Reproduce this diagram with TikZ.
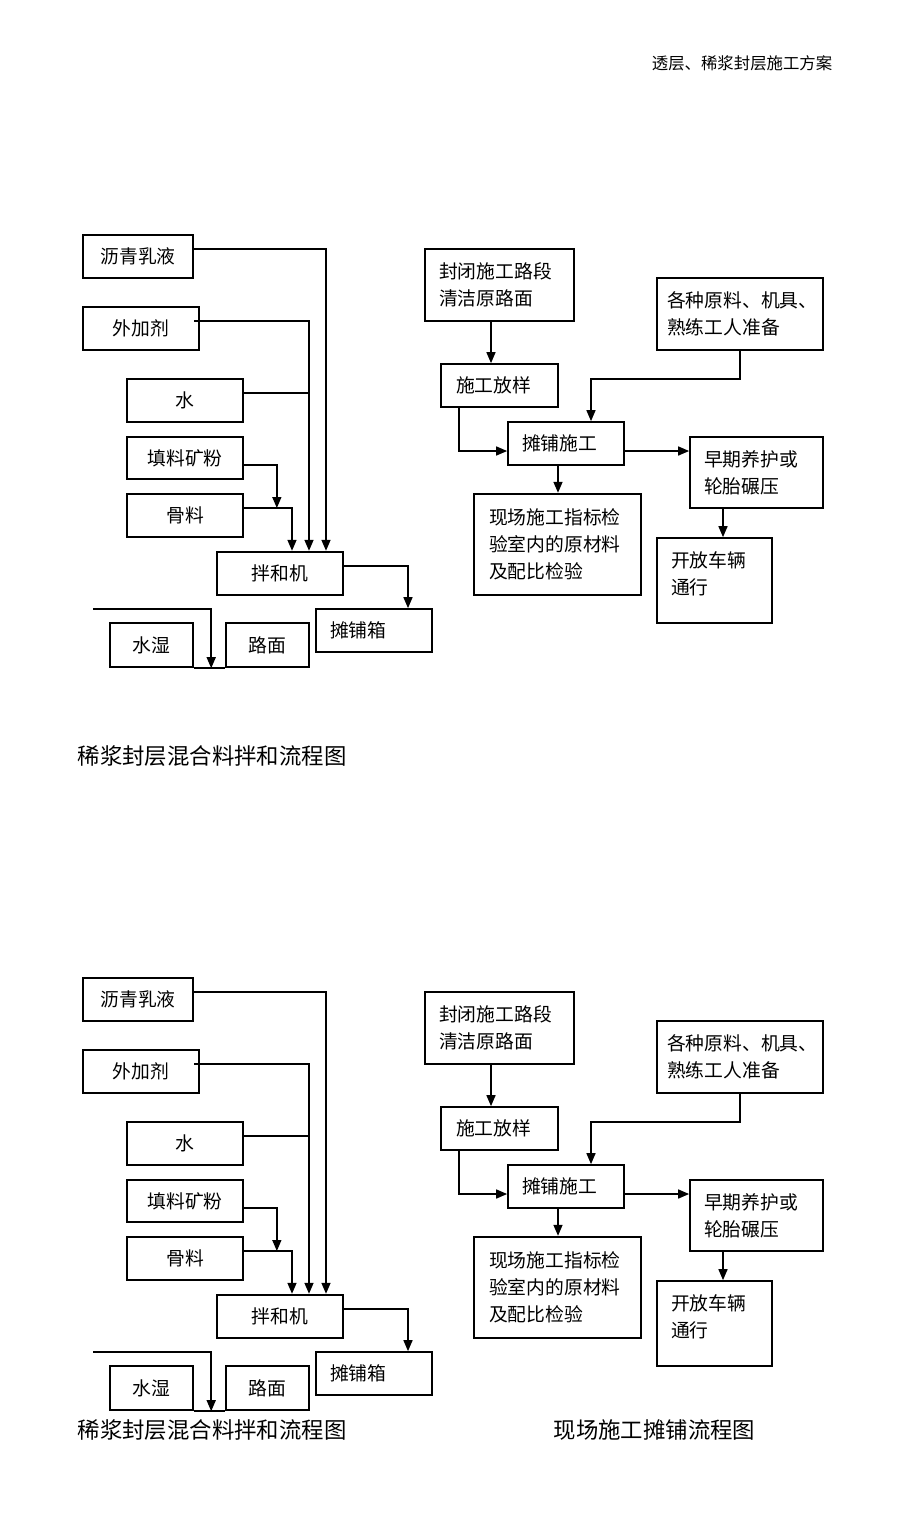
\documentclass[tikz,border=0pt]{standalone}
\usepackage{fontspec}
\newfontfamily\cjk{Noto Sans CJK SC}
\usetikzlibrary{arrows.meta}

\begin{document}
\begin{tikzpicture}[x=1pt,y=-1pt,>={Triangle[length=11pt,width=9pt]},line width=1.5pt]
    \tikzstyle{box}=[draw,line width=1.7pt,inner sep=0pt,font=\cjk\fontsize{18.8}{27}\selectfont]
    \tikzstyle{thick box}=[box,line width=2.4pt]
    \tikzstyle{left box}=[box,align=left,inner xsep=14pt]
    \tikzstyle{caption}=[anchor=west,inner sep=0pt,font=\cjk\fontsize{22.4}{26}\selectfont]
    \tikzstyle{link}=[->]

    \path[fill=white,use as bounding box] (0,0) rectangle (920,1516);

    % Page header
    \node[anchor=east,inner sep=0pt,font=\cjk\fontsize{16.4}{20}\selectfont] (header) at (833,63) {透层、稀浆封层施工方案};

    % The same pair of charts is printed twice on the page
    \foreach \k/\dy in {1/0,2/743}{
    \begin{scope}[yshift=-\dy pt]
        % Draw the mixing chart nodes
        \node[box,minimum width=110pt,minimum height=43pt] (ldq-\k) at (138,256.5) {沥青乳液};
        \node[box,line width=2pt,minimum width=116pt,minimum height=43pt] (wjj-\k) at (141,328.5) {外加剂};
        \node[box,minimum width=116pt,minimum height=43pt] (shui-\k) at (185,400.5) {水};
        \node[box,minimum width=116pt,minimum height=42pt] (tl-\k) at (185,458) {填料矿粉};
        \node[box,minimum width=116pt,minimum height=43pt] (gl-\k) at (185,515.5) {骨料};
        \node[thick box,minimum width=126pt,minimum height=43pt] (bhj-\k) at (280,573.5) {拌和机};
        \node[left box,text width=88pt,minimum height=43pt] (tpx-\k) at (374,630.5) {摊铺箱};
        \node[thick box,minimum width=83pt,minimum height=44pt] (ss-\k) at (151.5,645) {水湿};
        \node[thick box,minimum width=83pt,minimum height=44pt] (lm-\k) at (267.5,645) {路面};
        \coordinate (wet-\k) at (93,609);

        % Connect the feeds with the mixer
        \draw[link] ([yshift=7.5pt]ldq-\k.east) -| ([xshift=46pt]bhj-\k.north);
        \draw[link] ([xshift=-6pt,yshift=7.5pt]wjj-\k.east) -| ([xshift=29pt]bhj-\k.north);
        \draw ([yshift=7.5pt]shui-\k.east) -- +(66,0);
        \draw[link] ([yshift=-7pt]tl-\k.east) -| ([xshift=33pt,yshift=7.5pt]gl-\k.east);
        \draw[link] ([yshift=7.5pt]gl-\k.east) -| ([xshift=12pt]bhj-\k.north);
        \draw[link] ([yshift=7.5pt]bhj-\k.east) -| ([xshift=34pt]tpx-\k.north);
        \draw[link] (wet-\k) -| ([xshift=17pt]ss-\k.south east);
        \draw[line width=2.4pt] (ss-\k.south east) -- (lm-\k.south west);

        % Draw the paving chart nodes
        \node[left box,text width=121pt,minimum height=72pt] (fb-\k) at (499.5,285) {封闭施工路段\\清洁原路面};
        \node[left box,inner xsep=15pt,text width=87pt,minimum height=43pt] (fy-\k) at (499.5,385.5) {施工放样};
        \node[left box,inner xsep=10pt,text width=146pt,minimum height=72pt] (zb-\k) at (740,314) {各种原料、机具、\\熟练工人准备};
        \node[left box,text width=88pt,minimum height=43pt] (tpsg-\k) at (566,443.5) {摊铺施工};
        \node[left box,text width=105pt,minimum height=71pt] (yh-\k) at (756.5,472.5) {早期养护或\\轮胎碾压};
        \node[left box,line width=2.4pt,inner xsep=15pt,text width=137pt,minimum height=101pt] (jy-\k) at (557.5,544.5) {现场施工指标检\\验室内的原材料\\及配比检验};
        \node[left box,text width=87pt,text depth=41pt,minimum height=85pt] (tx-\k) at (714.5,580.5) {开放车辆\\通行};

        % Connect the paving steps
        \draw[link] ([xshift=-8.5pt]fb-\k.south) -- ([xshift=-8.5pt]fy-\k.north);
        \draw[link] ([xshift=-40.5pt]fy-\k.south) |- ([yshift=-7.5pt]tpsg-\k.west);
        \draw[link] (zb-\k.south) -- ++(0,28) -| ([xshift=25pt]tpsg-\k.north);
        \draw[link] ([yshift=-7.5pt]tpsg-\k.east) -- ([yshift=-7.5pt]tpsg-\k.east -| yh-\k.west);
        \draw[link] ([xshift=-8pt]tpsg-\k.south) -- ([xshift=-8pt]tpsg-\k.south |- jy-\k.north);
        \draw[link] ([xshift=-33.5pt]yh-\k.south) -- ([xshift=-33.5pt]yh-\k.south |- tx-\k.north);
    \end{scope}
    }

    % Chart titles
    \node[caption] (cap-mix-1) at (77,756) {稀浆封层混合料拌和流程图};
    \node[caption] (cap-mix-2) at (77,1430) {稀浆封层混合料拌和流程图};
    \node[caption] (cap-pave) at (553,1430) {现场施工摊铺流程图};
\end{tikzpicture}
\end{document}
